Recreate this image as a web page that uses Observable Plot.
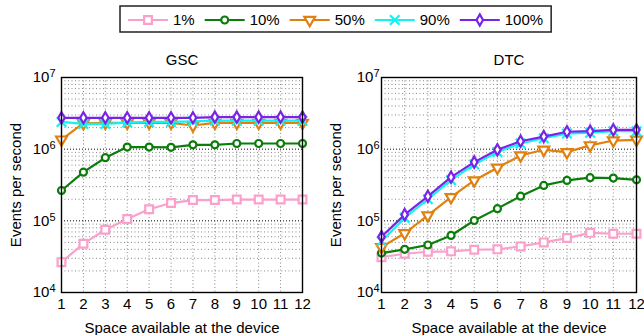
<!DOCTYPE html>
<html><head><meta charset="utf-8">
<script src="https://cdn.jsdelivr.net/npm/d3@7"></script>
<script src="https://cdn.jsdelivr.net/npm/@observablehq/plot@0.6"></script>
<style>
body{margin:0;background:#fff;font-family:"Liberation Sans",Arial,sans-serif;}
#wrap{position:relative;width:644px;height:335px;overflow:hidden;}
#legend{position:absolute;left:0;top:0;}
#plots{position:absolute;left:0;top:38px;display:flex;}
svg text{font-weight:normal;}
</style></head>
<body>
<div id="wrap"><div id="legend"></div><div id="plots"></div></div>
<script>
// ---- data ----
const xs = [1, 2, 3, 4, 5, 6, 7, 8, 9, 10, 11, 12];
const seriesNames = ["1%", "10%", "50%", "90%", "100%"];
const seriesColors = ["#f9a0cb", "#0b7d0b", "#e0800f", "#12f2f2", "#7a22e6"];
const seriesSymbols = ["square", "circle", "triangle", "times", "diamond"];
const panelTitles = ["GSC", "DTC"];
const yTicks = [1e4, 1e5, 1e6, 1e7];
const yMinorTicks = [2e4,3e4,4e4,5e4,6e4,7e4,8e4,9e4,2e5,3e5,4e5,5e5,6e5,7e5,8e5,9e5,2e6,3e6,4e6,5e6,6e6,7e6,8e6,9e6];

const gsc1   = [26500, 48000, 75000, 106000, 145000, 177000, 195000, 195000, 198000, 198000, 198000, 198000];
const gsc10  = [265000, 478000, 760000, 1070000, 1070000, 1060000, 1150000, 1150000, 1200000, 1200000, 1200000, 1200000];
const gsc50  = [1360000, 2300000, 2330000, 2330000, 2330000, 2330000, 2140000, 2330000, 2330000, 2330000, 2330000, 2330000];
const gsc90  = [2400000, 2250000, 2250000, 2350000, 2400000, 2400000, 2450000, 2500000, 2500000, 2500000, 2500000, 2500000];
const gsc100 = [2740000, 2740000, 2740000, 2740000, 2740000, 2740000, 2740000, 2800000, 2800000, 2800000, 2800000, 2800000];

const dtc1   = [31000, 34700, 37000, 37500, 39500, 40000, 44000, 50000, 57500, 68000, 66000, 66000];
const dtc10  = [35500, 40000, 46000, 62500, 101000, 148000, 221000, 312000, 366000, 400000, 395000, 374000];
const dtc50  = [43000, 67000, 119000, 214000, 366000, 550000, 817000, 980000, 908000, 1130000, 1320000, 1350000];
const dtc90  = [52000, 110000, 200000, 370000, 610000, 910000, 1200000, 1420000, 1650000, 1700000, 1780000, 1780000];
const dtc100 = [60000, 122000, 220000, 407000, 660000, 980000, 1290000, 1500000, 1750000, 1780000, 1860000, 1860000];

const panelSeries = [[gsc1, gsc10, gsc50, gsc90, gsc100], [dtc1, dtc10, dtc50, dtc90, dtc100]];

// ---- style ----
const symR = {square: 4.4, circle: 3.5, triangle: 4.0, times: 4.4, diamond: 3.4};
const FONT = "'Liberation Sans', Arial, sans-serif";

function supers(svg) {
  d3.select(svg).selectAll("text").each(function() {
    const t = this.textContent;
    const m = /^10\^(\d)$/.exec(t);
    if (m) {
      const el = d3.select(this);
      el.text("10");
      el.append("tspan").attr("dy", "-0.45em").attr("font-size", "11px").text(m[1]);
    }
  });
}

function panel(i, ml, mr, tickPad) {
  const marks = [
    Plot.gridX(xs.slice(1, -1), {stroke: "#888", strokeOpacity: 1, strokeDasharray: "1,2.5"}),
    Plot.gridY(yMinorTicks, {stroke: "#888", strokeOpacity: 1, strokeDasharray: "1,2.5"}),
    Plot.gridY(yTicks.slice(1, -1), {stroke: "#000", strokeOpacity: 1, strokeDasharray: "1,2"}),
    Plot.axisX(xs, {tickSize: 0, tickPadding: 6, fontSize: 15, label: "Space available at the device", labelAnchor: "center", labelArrow: "none"}),
    Plot.axisY(yTicks, {tickSize: 0, tickPadding: tickPad, fontSize: 15, tickFormat: d => "10^" + Math.round(Math.log10(d)),
      label: "Events per second", labelAnchor: "center", labelArrow: "none", labelOffset: 51}),
    Plot.text([panelTitles[i]], {frameAnchor: "top", lineAnchor: "middle", dy: -17, fontSize: 15, fill: "#000"})
  ];
  seriesNames.forEach((name, k) => {
    const rows = xs.map((x, j) => ({x, y: panelSeries[i][k][j]}));
    marks.push(Plot.line(rows, {x: "x", y: "y", stroke: seriesColors[k], strokeWidth: 2.2}));
    marks.push(Plot.dot(rows, {x: "x", y: "y", symbol: seriesSymbols[k], r: symR[seriesSymbols[k]],
      stroke: seriesColors[k], fill: seriesSymbols[k] === "times" ? "none" : "white", strokeWidth: 2.2,
      rotate: seriesSymbols[k] === "triangle" ? 180 : 0}));
  });
  marks.push(Plot.frame({stroke: "#000", strokeWidth: 1.4}));
  const svg = Plot.plot({
    width: 322, height: 297,
    marginLeft: ml, marginRight: mr, marginTop: 39, marginBottom: 43,
    style: {fontFamily: FONT, fontSize: "15px", color: "#000", background: "white", overflow: "visible"},
    x: {domain: [1, 12]},
    y: {type: "log", domain: [1e4, 1e7]},
    marks
  });
  supers(svg);
  return svg;
}

const plots = document.getElementById("plots");
plots.appendChild(panel(0, 61, 20, 6));
plots.appendChild(panel(1, 59, 8, 2));

// ---- legend ----
const lg = d3.select("#legend").append("svg").attr("width", 644).attr("height", 38)
  .style("font-family", FONT).style("font-size", "15px");
const box = lg.append("rect").attr("y", 6).attr("height", 26).attr("fill", "white").attr("stroke", "#222").attr("stroke-width", 1.5);
let cx = 128;
const cy = 20;
const symMap = {square: d3.symbolSquare, circle: d3.symbolCircle, triangle: d3.symbolTriangle, times: d3.symbolTimes, diamond: d3.symbolDiamond};
seriesNames.forEach((name, k) => {
  const g = lg.append("g");
  g.append("line").attr("x1", cx).attr("x2", cx + 40).attr("y1", cy).attr("y2", cy)
    .attr("stroke", seriesColors[k]).attr("stroke-width", 2.2);
  const s = seriesSymbols[k];
  const r = symR[s];
  g.append("path").attr("d", d3.symbol(symMap[s], Math.PI * r * r)())
    .attr("transform", `translate(${cx + 20},${cy})` + (s === "triangle" ? " rotate(180)" : ""))
    .attr("fill", s === "times" ? "none" : "white").attr("stroke", seriesColors[k]).attr("stroke-width", 2.2);
  const t = g.append("text").attr("x", cx + 45).attr("y", cy).attr("dy", "0.36em").attr("fill", "#000").text(name);
  const w = t.node().getComputedTextLength();
  cx = cx + 45 + w + 10;
});
box.attr("x", 120).attr("width", cx - 2 - 120);
</script>
</body></html>
